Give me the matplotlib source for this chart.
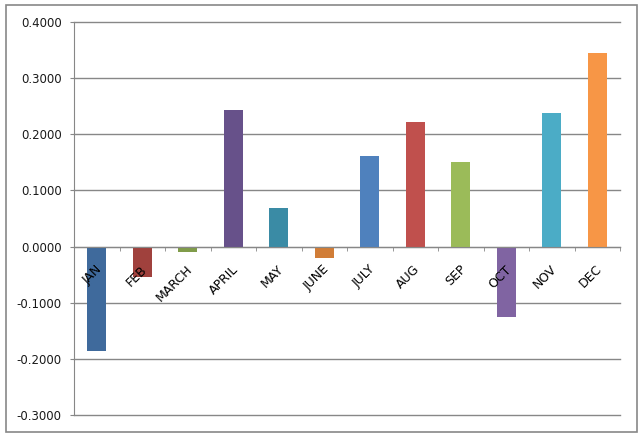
import numpy as np
import matplotlib
matplotlib.use('Agg')
import matplotlib.pyplot as plt
import matplotlib.transforms as mtransforms
from matplotlib.patches import Rectangle

# Monthly values
months = ['JAN', 'FEB', 'MARCH', 'APRIL', 'MAY', 'JUNE',
          'JULY', 'AUG', 'SEP', 'OCT', 'NOV', 'DEC']
values = [-0.186, -0.055, -0.010, 0.244, 0.068, -0.021,
          0.162, 0.221, 0.150, -0.126, 0.238, 0.345]
colors = ['#3F6A9C', '#A0413D', '#809C4A', '#67518A', '#3A8BA5', '#D17D37',
          '#4F81BD', '#C0504D', '#9BBB59', '#8064A2', '#4BACC6', '#F79646']
y_ticks = [-0.3, -0.2, -0.1, 0.0, 0.1, 0.2, 0.3, 0.4]

grid_col = '#878787'

fig = plt.figure(figsize=(6.39, 4.36), dpi=100)
ax = fig.add_axes([74 / 639, 1 - 415 / 436, 546 / 639, 393 / 436])

# outer chart border
fig.patches.append(Rectangle((6 / 639, 1 - 432 / 436), 631 / 639, 427 / 436,
                             transform=fig.transFigure, fill=False,
                             edgecolor=grid_col, linewidth=1.2))

x = np.arange(len(months))
ax.bar(x, values, width=0.42, color=colors, zorder=2)

ax.set_xlim(-0.5, len(months) - 0.5)
ax.set_ylim(-0.3, 0.4)
ax.set_yticks(y_ticks)
ax.set_yticklabels([f'{v:.4f}' for v in y_ticks], fontsize=8.5, color='#1a1a1a')
# horizontal gridlines (drawn unclipped so the edge ones show fully)
for v in y_ticks:
    ax.axhline(v, color=grid_col, linewidth=1.0, zorder=1, clip_on=False)

for s in ['top', 'right']:
    ax.spines[s].set_visible(False)
ax.spines['left'].set_color(grid_col)
ax.spines['bottom'].set_color(grid_col)
ax.spines['bottom'].set_position(('data', 0))
ax.spines['bottom'].set_zorder(3)

ax.tick_params(axis='y', direction='out', length=3, color=grid_col, pad=6)
ax.set_xticks(x)
ax.set_xticks(np.arange(-0.5, len(months)), minor=True)
ax.tick_params(axis='x', which='major', length=0, pad=15)
ax.tick_params(axis='x', which='minor', direction='out', length=3, color=grid_col)
ax.set_xticklabels(months, fontsize=9, rotation=45,
                   ha='right', va='center', rotation_mode='anchor')
# nudge month labels a little to the right, and draw them over the bars
shift = mtransforms.ScaledTranslation(3 / 100, 0, fig.dpi_scale_trans)
for lbl in ax.get_xticklabels():
    lbl.set_transform(lbl.get_transform() + shift)
ax.xaxis.set_zorder(4)

plt.savefig('out.png', dpi=100)
